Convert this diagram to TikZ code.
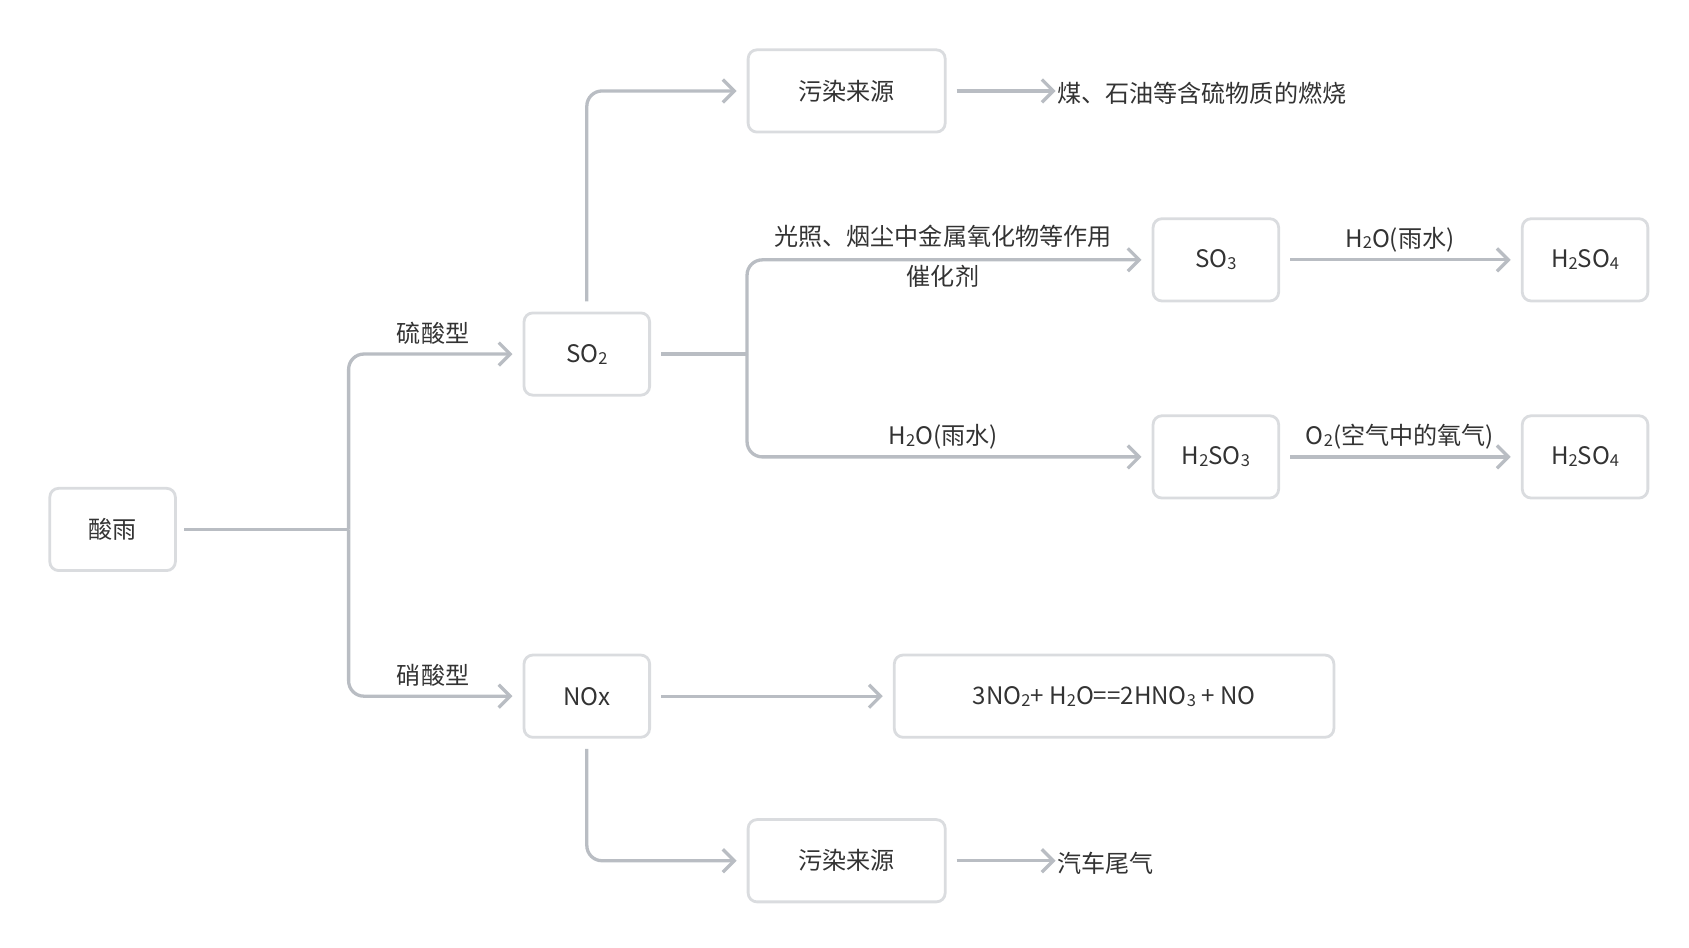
\documentclass[tikz,border=0pt]{standalone}
\usepackage{fontspec}
\setmainfont{Noto Sans CJK SC}
\usetikzlibrary{arrows.meta}
\newcommand{\subn}[1]{\raisebox{-0.15ex}{\fontsize{13pt}{13pt}\selectfont #1}}
\definecolor{ln}{HTML}{B9BDC3}
\definecolor{bd}{HTML}{DADCDF}
\definecolor{tx}{HTML}{333333}
\begin{document}
\begin{tikzpicture}[x=0.03cm,y=-0.03cm,
  box/.style={draw=bd,line width=2.2pt,rounded corners=7pt,fill=white,text=tx,minimum height=2.28cm,font=\fontsize{19pt}{22pt}\selectfont},
  sbox/.style={box,minimum width=3.48cm},
  wbox/.style={box,minimum width=5.46cm},
  lbl/.style={text=tx,font=\fontsize{19pt}{22pt}\selectfont,inner sep=1pt},
  con/.style={draw=ln,line width=2.6pt,rounded corners=12pt,-{Straight Barb[length=9pt,width=18pt,line width=2.6pt]}},
  seg/.style={draw=ln,line width=2.6pt,rounded corners=12pt}]
\useasboundingbox (0,0) rectangle (1560,875);
\node[sbox] (acid) at (104,489) {酸雨};
\node[sbox] (so2) at (542,327) {SO\subn{2}};
\node[sbox] (nox) at (542,643) {NOx};
\node[wbox] (src1) at (782,84) {污染来源};
\node[sbox] (so3) at (1123,240) {SO\subn{3}};
\node[sbox] (hso4a) at (1464,240) {H\subn{2}SO\subn{4}};
\node[sbox] (hso3) at (1123,422) {H\subn{2}SO\subn{3}};
\node[sbox] (hso4b) at (1464,422) {H\subn{2}SO\subn{4}};
\node[box,minimum width=12.18cm] (eq) at (1029,643) {3NO\subn{2}+ H\subn{2}O==2HNO\subn{3} + NO};
\node[wbox] (src2) at (782,795) {污染来源};
\node[lbl,anchor=west] (t1) at (975,86) {煤、石油等含硫物质的燃烧};
\node[lbl,anchor=west] (t2) at (975,797) {汽车尾气};
\coordinate (a0) at (170,489);
\coordinate (b1) at (322,489);
\draw[seg] (a0) -- (b1);
\draw[con] (b1) -- (322,327) -- ([xshift=-8pt]so2.west);
\draw[con] (b1) -- (322,643) -- ([xshift=-8pt]nox.west);
\node[lbl] at (400,308) {硫酸型};
\node[lbl] at (400,624) {硝酸型};
\draw[con] ([yshift=8pt]so2.north) -- (542,84) -- ([xshift=-8pt]src1.west);
\coordinate (s0) at ([xshift=8pt]so2.east);
\coordinate (s1) at (690,327);
\draw[seg] (s0) -- (s1);
\draw[con] (s1) -- (690,240) -- ([xshift=-8pt]so3.west);
\draw[con] (s1) -- (690,422) -- ([xshift=-8pt]hso3.west);
\node[lbl] at (871,218) {光照、烟尘中金属氧化物等作用};
\node[lbl] at (871,255) {催化剂};
\node[lbl] at (871,403) {H\subn{2}O(雨水)};
\draw[con] ([xshift=8pt]so3.east) -- ([xshift=-8pt]hso4a.west);
\node[lbl] at (1293,221) {H\subn{2}O(雨水)};
\draw[con] ([xshift=8pt]hso3.east) -- ([xshift=-8pt]hso4b.west);
\node[lbl] at (1293,403) {O\subn{2}(空气中的氧气)};
\draw[con] ([xshift=8pt]src1.east) -- (t1.west|-src1.east);
\draw[con] ([xshift=8pt]nox.east) -- ([xshift=-8pt]eq.west);
\draw[con] ([yshift=-8pt]nox.south) -- (542,795) -- ([xshift=-8pt]src2.west);
\draw[con] ([xshift=8pt]src2.east) -- (t2.west|-src2.east);
\end{tikzpicture}
\end{document}
